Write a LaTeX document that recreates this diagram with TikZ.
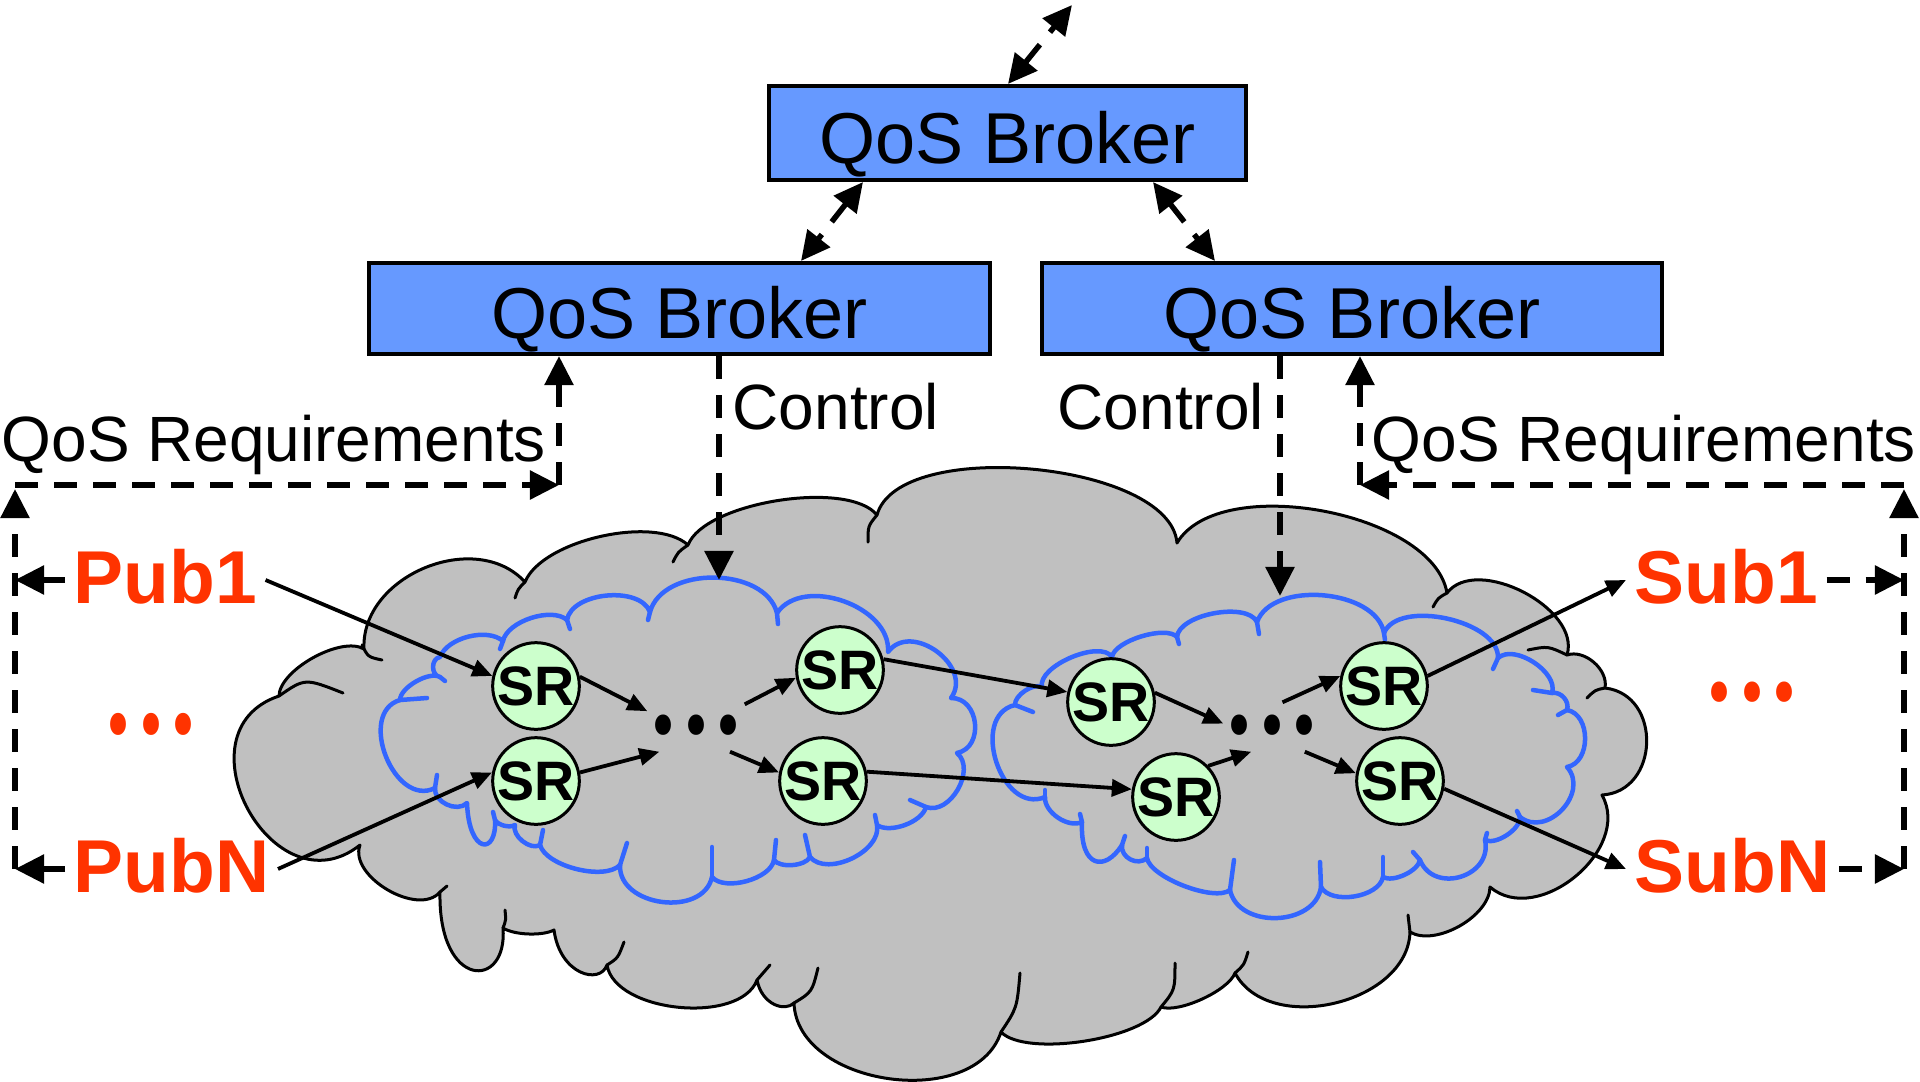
\documentclass[tikz,border=0pt]{standalone}
\usepackage{fontspec}
\setmainfont{Liberation Sans}
\newfontfamily\dotfont{Poppins}
\usetikzlibrary{arrows.meta,calc}
\definecolor{boxblue}{RGB}{102,153,255}
\definecolor{cloudgray}{RGB}{192,192,192}
\definecolor{cloudblue}{RGB}{51,102,255}
\definecolor{srgreen}{RGB}{204,255,204}
\definecolor{pubred}{RGB}{255,51,0}
\begin{document}
\begin{tikzpicture}[x=0.01cm, y=-0.01cm,
  broker/.style={draw=black, line width=0.04cm, fill=boxblue, inner sep=0pt,
    text height=0.6cm, text depth=0cm, font=\fontsize{20.5}{24}\selectfont},
  lbl/.style={inner sep=0pt, anchor=base west, font=\fontsize{18.2}{22}\selectfont},
  pubsub/.style={inner sep=0.08cm, anchor=base west, text=pubred, text height=0.50cm, text depth=0.04cm,
    font=\bfseries\fontsize{21.3}{25}\selectfont},
  srnode/.style={circle, draw=black, line width=0.03cm, fill=srgreen, minimum size=0.77cm, inner sep=0pt,
    font=\bfseries\fontsize{15.8}{18}\selectfont},
  dotsnode/.style={inner sep=0pt, minimum width=0.96cm, minimum height=0.48cm, text height=0.15cm, text depth=0cm,
    font=\dotfont\bfseries\fontsize{26}{30}\selectfont},
  dasharr/.style={line width=0.055cm, dash pattern=on 0.23cm off 0.16cm, -{Triangle[length=0.29cm,width=0.28cm]}},
  ddarr/.style={line width=0.055cm, dash pattern=on 0.23cm off 0.16cm,
    {Triangle[length=0.29cm,width=0.28cm]}-{Triangle[length=0.29cm,width=0.28cm]}},
  sarr/.style={line width=0.038cm, -{Triangle[length=0.2cm,width=0.17cm]}},
  grayline/.style={black, line width=0.03cm, line cap=round},
  blueline/.style={cloudblue, line width=0.045cm, line cap=round, line join=round}
]
\fill[white] (0,0) rectangle (1920,1081);
\useasboundingbox (0,0) rectangle (1920,1081);

% ---------- gray cloud ----------
\foreach \n/\x/\y in {g1/360/845, g2/279/696, g3/364/649, g4/525/582, g5/688/545, g6/877/515,
  g7/1177/543, g8/1447/593, g9/1567/655, g10/1605/688, g11/1602/795, g12/1490/887, g13/1410/932,
  g14/1235/973, g15/1161/1007, g16/1001/1032, g17/794/1003, g18/757/980, g19/607/965, g20/554/930,
  g21/503/928, g22/440/892}
  \coordinate (\n) at (\x,\y);

\fill[cloudgray, draw=black, line width=0.03cm, line join=round]
 (g1) foreach \pa/\pb/\pt/\pf in {g1/g2/100/0.65, g2/g3/60/0.27, g3/g4/70/0.42, g4/g5/55/0.27,
   g5/g6/60/0.24, g6/g7/80/0.27, g7/g8/70/0.3, g8/g9/80/0.36, g9/g10/60/0.37, g10/g11/85/0.54,
   g11/g12/80/0.43, g12/g13/60/0.32, g13/g14/75/0.4, g14/g15/45/0.23, g15/g16/55/0.22, g16/g17/80/0.4}
 { .. controls ($(\pa)!\pf!\pt:(\pb)$) and ($(\pb)!\pf!-\pt:(\pa)$) .. (\pb) }
 .. controls (785,1012) and (762,1005) .. (g18)
 .. controls ($(g18)!0.32!75:(g19)$) and ($(g19)!0.32!-75:(g18)$) .. (g19)
 .. controls (600,985) and (560,975) .. (g20)
 .. controls ($(g20)!0.26!30:(g21)$) and ($(g21)!0.26!-30:(g20)$) .. (g21)
 .. controls (508,990) and (438,990) .. (g22)
 .. controls ($(g22)!0.36!80:(g1)$) and ($(g1)!0.36!-80:(g22)$) .. (g1)
 -- cycle;

\foreach \xa/\ya/\xb/\yb/\xc/\yc in {362/645/368/657/382/660, 279/696/305/678/343/693,
  440/892/443/889/447/886, 503/928/506/920/505/910, 607/965/618/958/624/942, 757/980/764/973/770/965,
  794/1003/812/992/818/968, 1001/1032/1017/1008/1020/973, 1161/1007/1175/990/1175/963,
  1235/973/1244/965/1248/952, 1410/932/1409/923/1408/915, 1605/688/1595/690/1587/698,
  1567/655/1548/646/1528/650, 1447/593/1438/598/1433/607, 877/515/868/526/868/542,
  688/545/678/552/673/562, 525/582/518/589/515/598}
  \draw[grayline] (\xa,\ya) .. controls (\xb,\yb) .. (\xc,\yc);

% ---------- left blue cloud ----------
\foreach \n/\x/\y in {l1/440/657, l2/503/641, l3/567/620, l4/650/612, l5/777/613, l6/888/652,
  l7/951/698, l8/957/753, l9/926/807, l10/877/825, l11/810/857, l12/774/860, l13/712/877,
  l14/620/865, l15/540/845, l16/515/825, l17/495/820, l18/467/803, l19/435/788, l20/400/700, l21/440/677}
  \coordinate (\n) at (\x,\y);
\draw[blueline]
 (l1) foreach \pa/\pb/\pt/\pf in {l1/l2/55/0.32, l2/l3/60/0.3, l3/l4/75/0.34, l4/l5/75/0.38,
   l5/l6/75/0.39, l6/l7/90/0.5, l7/l8/85/0.51, l8/l9/80/0.41, l9/l10/55/0.3, l10/l11/75/0.36,
   l11/l12/60/0.28, l12/l13/65/0.3, l13/l14/85/0.45, l14/l15/60/0.27, l15/l16/70/0.35, l16/l17/45/0.3}
 { .. controls ($(\pa)!\pf!\pt:(\pb)$) and ($(\pb)!\pf!-\pt:(\pa)$) .. (\pb) }
 .. controls (497,855) and (469,855) .. (l18)
 foreach \pa/\pb/\pt/\pf in {l18/l19/70/0.4, l19/l20/95/0.48, l20/l21/60/0.27, l21/l1/80/0.47}
 { .. controls ($(\pa)!\pf!\pt:(\pb)$) and ($(\pb)!\pf!-\pt:(\pa)$) .. (\pb) }
 -- cycle;

% ---------- right blue cloud ----------
\foreach \n/\x/\y in {r1/1042/687, r2/1112/657, r3/1177/637, r4/1257/622, r5/1384/633, r6/1498/658,
  r7/1552/693, r8/1567/710, r9/1567/767, r10/1520/817, r11/1485/840, r12/1420/860, r13/1383/877,
  r14/1321/887, r15/1230/890, r16/1147/858, r17/1122/845, r18/1082/822, r19/1045/797, r20/1015/705}
  \coordinate (\n) at (\x,\y);
\draw[blueline]
 (r1) foreach \pa/\pb/\pt/\pf in {r1/r2/80/0.28, r2/r3/65/0.24, r3/r4/75/0.28, r4/r5/75/0.35,
   r5/r6/80/0.32, r6/r7/75/0.34, r7/r8/60/0.4, r8/r9/80/0.43, r9/r10/85/0.5, r10/r11/60/0.29,
   r11/r12/85/0.55, r12/r13/55/0.28, r13/r14/70/0.33, r14/r15/80/0.44, r15/r16/60/0.22, r16/r17/70/0.45}
 { .. controls ($(\pa)!\pf!\pt:(\pb)$) and ($(\pb)!\pf!-\pt:(\pa)$) .. (\pb) }
 .. controls (1105,872) and (1080,868) .. (r18)
 foreach \pa/\pb/\pt/\pf in {r18/r19/60/0.34, r19/r20/95/0.49, r20/r1/60/0.3}
 { .. controls ($(\pa)!\pf!\pt:(\pb)$) and ($(\pb)!\pf!-\pt:(\pa)$) .. (\pb) }
 -- cycle;

\foreach \xa/\ya/\xb/\yb in {503/641/500/649, 567/620/570/629, 650/612/648/620, 777/613/778/624,
  926/807/910/800, 877/825/875/815, 810/857/805/835, 774/860/776/840, 712/877/712/847,
  620/865/627/843, 540/845/543/830, 495/820/493/812, 435/788/437/775, 440/677/445/681, 400/700/427/698,
  1177/637/1179/644, 1257/622/1259/634, 1384/633/1385/640, 1498/658/1493/669, 1552/693/1533/690,
  1567/710/1558/715, 1520/817/1517/811, 1485/840/1487/833, 1420/860/1413/852, 1383/877/1383/857,
  1321/887/1320/862, 1230/890/1234/860, 1147/858/1147/848, 1122/845/1125/836, 1082/822/1080/814,
  1045/797/1045/790, 1015/705/1033/712}
  \draw[blueline] (\xa,\ya) -- (\xb,\yb);

% ---------- brokers and labels ----------
\node[broker, minimum width=4.77cm, minimum height=0.94cm] (TB) at (1007.5,133) {QoS Broker};
\node[broker, minimum width=6.21cm, minimum height=0.91cm] (LB) at (679.5,308.5) {QoS Broker};
\node[broker, minimum width=6.20cm, minimum height=0.91cm] (RB) at (1352,308.5) {QoS Broker};

\node[lbl] (qrl) at (1,461) {QoS Requirements};
\node[lbl] (qrr) at (1371,461) {QoS Requirements};
\node[lbl] (ctlL) at (732,429) {Control};
\node[lbl] (ctlR) at (1057,429) {Control};

\node[pubsub] (Pub1) at (65,603) {Pub1};
\node[pubsub] (PubN) at (65,892) {PubN};
\node[pubsub] (Sub1) at (1626,603) {Sub1};
\node[pubsub] (SubN) at (1626,892) {SubN};

\node[dotsnode, text=pubred] (rd1) at (151,727) {\scalebox{0.85}[1.3]{.\hspace{0.13cm}.\hspace{0.13cm}.}};
\node[dotsnode, text=pubred] (rd2) at (1752,694) {\scalebox{0.85}[1.2]{.\hspace{0.13cm}.\hspace{0.13cm}.}};
\node[dotsnode] (bd1) at (696,727) {\scalebox{0.85}[1.2]{.\hspace{0.13cm}.\hspace{0.13cm}.}};
\node[dotsnode] (bd2) at (1272,727) {\scalebox{0.85}[1.2]{.\hspace{0.13cm}.\hspace{0.13cm}.}};

\node[srnode] (SR1) at (536,686) {SR};
\node[srnode] (SR2) at (536,781) {SR};
\node[srnode] (SR3) at (840,670) {SR};
\node[srnode] (SR4) at (823,781) {SR};
\node[srnode] (SR5) at (1111,702) {SR};
\node[srnode] (SR6) at (1176,797) {SR};
\node[srnode] (SR7) at (1384,686) {SR};
\node[srnode] (SR8) at (1400,781) {SR};

% ---------- helper coordinates ----------
\coordinate (lx) at (15,485);
\coordinate (lxv) at (15,489);
\coordinate (lq) at (559,485);
\coordinate (rx) at (1904,485);
\coordinate (rxv) at (1904,489);
\coordinate (rq) at (1360,485);
\coordinate (ctl) at (719,580);
\coordinate (ctr) at (1280,596);
\coordinate (t0) at (1008,0);
\coordinate (ext) at (1072,5);
\coordinate (t1) at (863,0);
\coordinate (b1) at (801,0);
\coordinate (t2) at (1153,0);
\coordinate (b2) at (1215,0);

% ---------- dashed connectors ----------
\draw[ddarr] (TB.north -| t0) -- (ext);
\draw[ddarr] (TB.south -| t1) -- (LB.north -| b1);
\draw[ddarr] (TB.south -| t2) -- (RB.north -| b2);

\draw[dasharr] (LB.south -| ctl) -- (ctl);
\draw[dasharr] (RB.south -| ctr) -- (ctr);

\draw[dasharr] (Pub1.west) -- (Pub1.west -| lx);
\draw[dasharr] (PubN.west) -- (PubN.west -| lx);
\draw[dasharr] (PubN.west -| lx) -- (lxv);
\draw[dasharr] (lx) -- (lq);
\draw[dasharr] (lq) -- (LB.south -| lq);

\draw[dasharr] (Sub1.east) -- (Sub1.east -| rx);
\draw[dasharr] (SubN.east) -- (SubN.east -| rx);
\draw[dasharr] (SubN.east -| rx) -- (rxv);
\draw[dasharr] (rx) -- (rq);
\draw[dasharr] (rq) -- (RB.south -| rq);

% ---------- solid connectors ----------
\draw[sarr] (Pub1.east) -- (SR1.167);
\draw[sarr] (PubN.east) -- (SR2.169);
\draw[sarr] (SR1.12) -- (bd1.162);
\draw[sarr] (SR2.11) -- (bd1.214);
\draw[sarr] (bd1.25) -- (SR3.190);
\draw[sarr] (bd1.324) -- (SR4.169);
\draw[sarr] (SR3.14) -- (SR5.167);
\draw[sarr] (SR4.12) -- (SR6.170);
\draw[sarr] (SR5.12) -- (bd2.176);
\draw[sarr] (SR6.44) -- (bd2.230);
\draw[sarr] (bd2.67) -- (SR7.167);
\draw[sarr] (bd2.323) -- (SR8.170);
\draw[sarr] (SR7.13) -- (Sub1.west);
\draw[sarr] (SR8.350) -- (SubN.west);
\end{tikzpicture}
\end{document}
